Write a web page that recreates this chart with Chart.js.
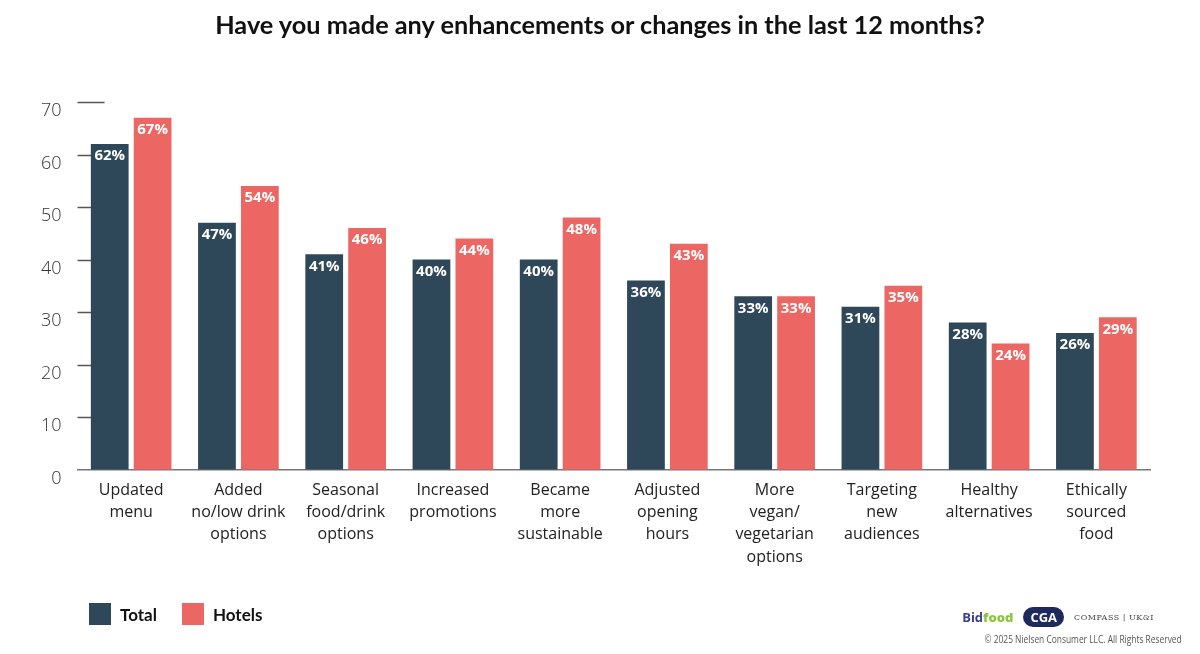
<!DOCTYPE html>
<html>
<head>
  <meta charset="utf-8">
  <title>Enhancements in the last 12 months</title>
  <script src="https://cdn.jsdelivr.net/npm/chart.js"></script>
  <style>
    html, body { margin: 0; padding: 0; background: #fff; }
    #wrap { position: relative; width: 1200px; height: 654px; }
    #title { position: absolute; left: 0; top: 9px; width: 1200px; text-align: center; font-family: 'Lato', sans-serif; font-weight: 700; font-size: 25.3px; color: #111; }
    #legend { position: absolute; left: 89px; top: 601px; font-family: 'Lato', sans-serif; font-weight: 700; font-size: 17px; color: #111; }
    #legend .item { display: inline-block; margin-right: 25px; }
    #legend i { display: inline-block; width: 22px; height: 22px; vertical-align: middle; margin-right: 9px; }
    #legend span { vertical-align: middle; }
    #foot { position: absolute; right: 18px; bottom: 8px; text-align: right; font-family: 'Open Sans', sans-serif; color: #555; }
    #logos { margin-bottom: 5px; margin-right: 28px; white-space: nowrap; }
    #logos span { display: inline-block; vertical-align: middle; margin-left: 10px; }
    .bid { color: #3a3f8f; font-weight: 700; font-size: 13px; }
    .bid b { color: #8cc63f; }
    .cga { background: #1f2a5c; color: #fff; font-weight: 700; font-size: 13px; border-radius: 11px; padding: 1px 7px; }
    .cmp { font-family: 'DejaVu Serif', serif; font-size: 8px; color: #444; letter-spacing: 0.5px; }
    #copy { font-size: 10px; transform: scaleX(0.84); transform-origin: right; white-space: nowrap; }
  </style>
</head>
<body>
<div id="wrap">
  <canvas id="chart" width="1200" height="654"></canvas>
  <div id="title">Have you made any enhancements or changes in the last 12 months?</div>
  <div id="legend"></div>
  <div id="foot">
    <div id="logos"><span class="bid">Bid<b>food</b></span><span class="cga">CGA</span><span class="cmp">COMPASS | UK&amp;I</span></div>
    <div id="copy">© 2025 Nielsen Consumer LLC. All Rights Reserved</div>
  </div>
</div>

<script>
  const categories = [
    ['Updated', 'menu'],
    ['Added', 'no/low drink', 'options'],
    ['Seasonal', 'food/drink', 'options'],
    ['Increased', 'promotions'],
    ['Became', 'more', 'sustainable'],
    ['Adjusted', 'opening', 'hours'],
    ['More', 'vegan/', 'vegetarian', 'options'],
    ['Targeting', 'new', 'audiences'],
    ['Healthy', 'alternatives'],
    ['Ethically', 'sourced', 'food']
  ];
  const totalValues = [62, 47, 41, 40, 40, 36, 33, 31, 28, 26];
  const hotelValues = [67, 54, 46, 44, 48, 43, 33, 35, 24, 29];
  const seriesNames = ['Total', 'Hotels'];
  const seriesColors = ['#2f4859', '#ec6764'];
  const yTicks = [0, 10, 20, 30, 40, 50, 60, 70];

  // short tick marks on the left, drawn behind the bars
  const tickMarks = {
    id: 'tickMarks',
    beforeDatasetsDraw(chart) {
      const ctx = chart.ctx;
      const y = chart.scales.y;
      const left = chart.chartArea.left;
      ctx.save();
      ctx.strokeStyle = '#555';
      ctx.lineWidth = 1.5;
      yTicks.forEach(v => {
        if (v === 0) return;
        const py = Math.round(y.getPixelForValue(v)) + 0.5;
        ctx.beginPath();
        ctx.moveTo(left, py);
        ctx.lineTo(left + 27, py);
        ctx.stroke();
      });
      ctx.restore();
    }
  };

  // value labels inside the top of each bar
  const barLabels = {
    id: 'barLabels',
    afterDatasetsDraw(chart) {
      const ctx = chart.ctx;
      ctx.save();
      ctx.font = 'bold 15px "Open Sans", sans-serif';
      ctx.fillStyle = '#fff';
      ctx.textAlign = 'center';
      ctx.textBaseline = 'middle';
      chart.data.datasets.forEach((ds, i) => {
        chart.getDatasetMeta(i).data.forEach((bar, j) => {
          ctx.fillText(ds.data[j] + '%', bar.x, bar.y + 12);
        });
      });
      ctx.restore();
    }
  };

  // legend
  document.getElementById('legend').innerHTML = seriesNames.map((n, i) =>
    '<span class="item"><i style="background:' + seriesColors[i] + '"></i><span>' + n + '</span></span>'
  ).join('');

  const ctx = document.getElementById('chart').getContext('2d');
  new Chart(ctx, {
    type: 'bar',
    data: {
      labels: categories,
      datasets: [
        { label: seriesNames[0], data: totalValues, backgroundColor: seriesColors[0] },
        { label: seriesNames[1], data: hotelValues, backgroundColor: seriesColors[1] }
      ]
    },
    options: {
      responsive: false,
      animation: false,
      categoryPercentage: 0.8,
      barPercentage: 0.88,
      layout: { padding: { left: 25, right: 50, top: 102, bottom: 84 } },
      plugins: {
        title: { display: false },
        legend: { display: false },
        tooltip: { enabled: false }
      },
      scales: {
        x: {
          grid: { display: false },
          border: { color: '#777', width: 1.5 },
          ticks: {
            color: '#222',
            font: { family: 'Open Sans', size: 16, lineHeight: 1.38 },
            maxRotation: 0,
            autoSkip: false,
            padding: 2
          }
        },
        y: {
          min: 0,
          max: 70,
          grid: { display: false, drawTicks: false },
          border: { display: false },
          afterBuildTicks(axis) { axis.ticks = yTicks.map(v => ({ value: v })); },
          ticks: {
            color: '#333',
            font: { family: 'Open Sans', size: 18, weight: '300' },
            padding: 16,
            labelOffset: 9
          }
        }
      }
    },
    plugins: [tickMarks, barLabels]
  });
</script>
</body>
</html>
